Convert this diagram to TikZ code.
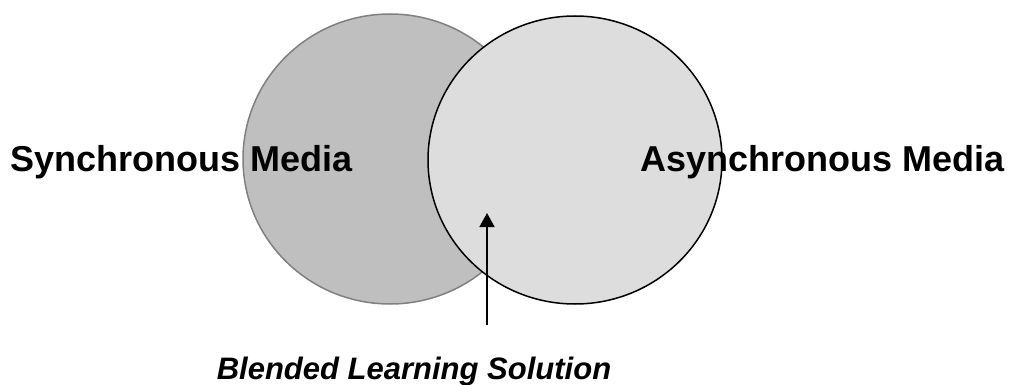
\documentclass[tikz,border=0pt]{standalone}
\usepackage{fontspec}
\setmainfont{Liberation Sans}
\usetikzlibrary{arrows.meta}
\definecolor{leftfill}{RGB}{191,191,191}
\definecolor{leftline}{RGB}{128,128,128}
\definecolor{rightfill}{RGB}{221,221,221}
\tikzset{
  lbl/.style={font=\fontsize{36}{40}\selectfont\bfseries, anchor=base, inner sep=0pt},
  blbl/.style={font=\fontsize{31}{36}\selectfont\bfseries\itshape, anchor=base, inner sep=0pt},
  arr/.style={line width=1.5pt, -{Triangle[length=14pt,width=15pt]}},
}
\begin{document}
\begin{tikzpicture}[x=1pt,y=1pt]
\useasboundingbox (0,0) rectangle (1014,-385);
\draw[fill=leftfill, draw=leftline, line width=1.5pt] (390,-159) ellipse [x radius=147, y radius=145];
\draw[fill=rightfill, draw=black, line width=1.5pt] (575,-160) ellipse [x radius=147, y radius=144];
\node[lbl] (sync) at (181.5,-171) {Synchronous Media};
\node[lbl] (async) at (822.5,-171) {Asynchronous Media};
\node[blbl] (blend) at (414,-379) {Blended Learning Solution};
\coordinate (tail) at (487,-325);
\coordinate (tip) at (487,-213);
\draw[arr] (tail) -- (tip);
\end{tikzpicture}
\end{document}
